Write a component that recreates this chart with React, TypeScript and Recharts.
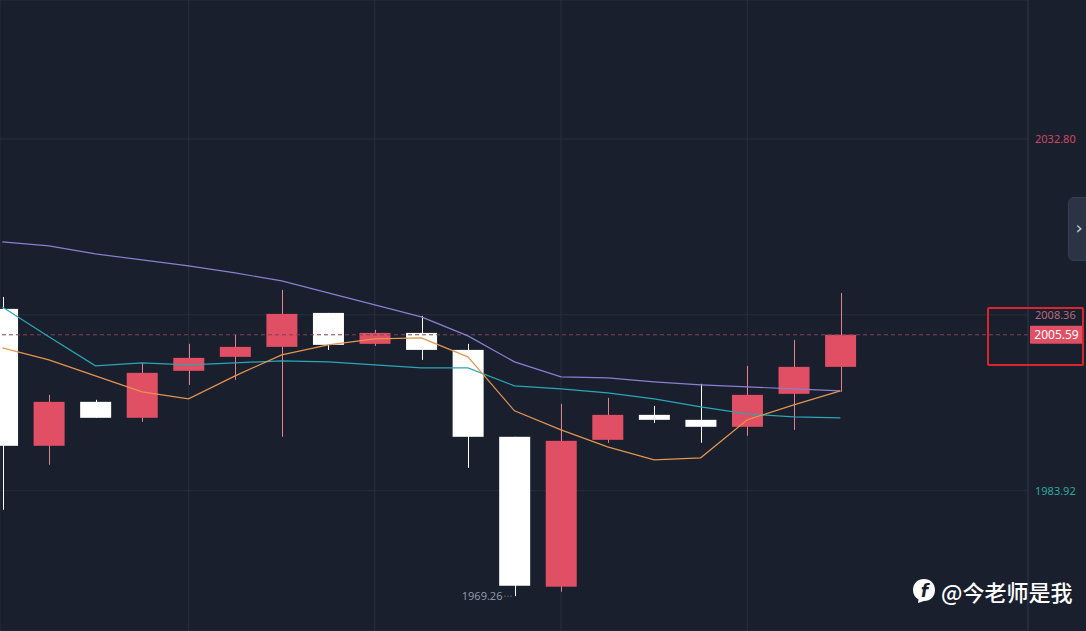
import {
  Bar,
  CartesianGrid,
  ComposedChart,
  Line,
  ReferenceDot,
  ReferenceLine,
  XAxis,
  YAxis,
} from "recharts";

// candle slots (index along the time axis)
const slots = [0, 1, 2, 3, 4, 5, 6, 7, 8, 9, 10, 11, 12, 13, 14, 15, 16, 17, 18];
const opens = [
  2009.19, 1990.16, 1996.27, 1994.05, 2000.58, 2002.52, 2003.91, 2008.63, 2004.33, 2005.85,
  2003.49, 1991.41, 1970.58, 1990.99, 1994.46, 1993.77, 1992.8, 1997.38, 2001.13,
];
const highs = [
  2010.85, 1997.24, 1996.55, 2001.69, 2004.33, 2005.58, 2011.83, 2008.63, 2006.27, 2008.21,
  2004.33, 1991.41, 1995.99, 1996.83, 1995.71, 1998.77, 2001.27, 2004.88, 2011.41,
];
const lows = [
  1981.27, 1987.52, 1994.05, 1993.49, 1998.63, 1999.33, 1991.41, 2003.49, 2004.05, 2002.1,
  1987.1, 1969.26, 1969.88, 1990.58, 1993.35, 1990.58, 1991.55, 1992.38, 1997.66,
];
const closes = [
  1990.16, 1996.27, 1994.05, 2000.3, 2002.38, 2003.91, 2008.49, 2004.19, 2005.85, 2003.49,
  1991.41, 1970.71, 1990.85, 1994.46, 1993.77, 1992.8, 1997.24, 2001.13, 2005.59,
];
const maFast = [
  2003.77, 2002.1, 1999.88, 1997.66, 1996.69, 1999.88, 2002.8, 2004.19, 2005.02, 2005.16,
  2002.52, 1995.02, 1992.38, 1990.02, 1988.21, 1988.49, 1993.77, 1995.85, 1997.8,
];
const maMid = [
  2009.46, 2005.3, 2001.27, 2001.69, 2001.41, 2001.69, 2001.96, 2001.83, 2001.41, 2000.99,
  2000.99, 1998.49, 1998.08, 1997.52, 1996.69, 1995.58, 1994.6, 1994.19, 1994.05,
];
const maSlow = [
  2018.49, 2017.94, 2016.83, 2015.99, 2015.16, 2014.19, 2013.08, 2011.41, 2009.74, 2008.08,
  2005.44, 2001.83, 1999.74, 1999.6, 1999.05, 1998.63, 1998.35, 1998.08, 1997.8,
];

const priceTicks = [1983.92, 2008.36, 2032.8];
const tickColors: Record<string, string> = {
  "1983.92": "#2aa99b",
  "2008.36": "#b26b80",
  "2032.80": "#c94b66",
};
const gridSlots = [0, 4, 8, 12, 16];
const lastPrice = 2005.59;
const lowPrice = 1969.26;
const lowSlot = 11;

const BG = "#1a1f2d";
const GRID = "#272e3d";
const UP = "#e04f63";
const UP_WICK = "#e3808f";
const DOWN = "#ffffff";

const data = slots.map((i, k) => ({
  i,
  open: opens[k],
  high: highs[k],
  low: lows[k],
  close: closes[k],
  range: [lows[k], highs[k]],
  ma5: maFast[k],
  ma10: maMid[k],
  ma30: maSlow[k],
}));

function Candle(props: any) {
  const { x, y, width, height, payload } = props;
  if (x == null || y == null) return null;
  const { open, close, high, low } = payload;
  const up = close >= open;
  const color = up ? UP : DOWN;
  const top0 = Math.min(y, y + height);
  const h = Math.abs(height);
  const span = high - low || 1;
  const toY = (v: number) => top0 + ((high - v) / span) * h;
  const top = toY(Math.max(open, close));
  const bottom = toY(Math.min(open, close));
  const cx = Math.round(x + width / 2) + 0.5;
  return (
    <g>
      <line x1={cx} x2={cx} y1={top0} y2={top0 + h} stroke={up ? UP_WICK : DOWN} strokeWidth={1} />
      <rect x={x} y={top} width={width} height={Math.max(bottom - top, 1.5)} fill={color} />
    </g>
  );
}

function PriceTick(props: any) {
  const { x, y, payload } = props;
  const label = Number(payload.value).toFixed(2);
  return (
    <text x={x} y={y} dy={4} fill={tickColors[label] ?? "#8a93a6"} fontSize={11} fontFamily="Noto Sans, Arial, sans-serif">
      {label}
    </text>
  );
}

function PriceTag(props: any) {
  const vb = props.viewBox || {};
  const left = vb.x + vb.width + 2;
  return (
    <g>
      <rect x={left} y={vb.y - 9} width={53} height={18} fill={UP} rx={1} />
      <text x={left + 26.5} y={vb.y + 4.5} textAnchor="middle" fill="#fff" fontSize={12} fontFamily="Noto Sans, Arial, sans-serif">
        {lastPrice.toFixed(2)}
      </text>
    </g>
  );
}

function LowMark(props: any) {
  const { cx, cy } = props;
  if (cx == null) return null;
  return (
    <g>
      <text x={cx - 12} y={cy + 4} textAnchor="end" fill="#8e97a8" fontSize={11} fontFamily="Noto Sans, Arial, sans-serif">
        {lowPrice.toFixed(2)}
      </text>
      <line x1={cx - 10} x2={cx - 2} y1={cy} y2={cy} stroke="#8e97a8" strokeDasharray="1 2" />
    </g>
  );
}

export default function App() {
  return (
    <div style={{ position: "fixed", left: 0, top: 0, width: 1086, height: 631, background: BG, overflow: "hidden" }}>
      <ComposedChart width={1086} height={631} data={data} margin={{ top: 0, right: 0, bottom: 0, left: 0 }}>
        <CartesianGrid stroke={GRID} strokeWidth={1} />
        <XAxis dataKey="i" type="number" domain={[-0.05, 22.03]} ticks={gridSlots} hide allowDataOverflow height={0} />
        <YAxis
          orientation="right"
          width={58}
          domain={[1964.42, 2052.12]}
          ticks={priceTicks}
          allowDataOverflow
          axisLine={{ stroke: "#2a3142" }}
          tickLine={false}
          tickSize={0}
          tickMargin={7}
          tick={<PriceTick />}
        />
        <ReferenceLine y={lastPrice} stroke="#7d4454" strokeDasharray="4 3" label={<PriceTag />} />
        <Bar dataKey="range" barSize={31} shape={<Candle />} isAnimationActive={false} />
        <Line type="linear" dataKey="ma30" stroke="#8a7fd3" strokeWidth={1.2} dot={false} activeDot={false} isAnimationActive={false} />
        <Line type="linear" dataKey="ma10" stroke="#2aa6b6" strokeWidth={1.2} dot={false} activeDot={false} isAnimationActive={false} />
        <Line type="linear" dataKey="ma5" stroke="#e39450" strokeWidth={1.2} dot={false} activeDot={false} isAnimationActive={false} />
        <ReferenceDot x={lowSlot} y={lowPrice} r={0} shape={<LowMark />} />
      </ComposedChart>

      {/* highlight box around current price */}
      <div
        style={{
          position: "absolute",
          left: 987,
          top: 307,
          width: 93,
          height: 55,
          border: "2px solid #d9262c",
          borderRadius: 2,
        }}
      />

      {/* side tab */}
      <div
        style={{
          position: "absolute",
          left: 1068,
          top: 197,
          width: 20,
          height: 62,
          background: "#2c3344",
          borderRadius: "6px 0 0 6px",
          border: "1px solid #363e51",
          color: "#c4cad6",
          fontFamily: "DejaVu Sans, sans-serif",
          fontSize: 18,
          lineHeight: "60px",
          textAlign: "center",
        }}
      >
        ›
      </div>

      {/* watermark */}
      <div
        style={{
          position: "absolute",
          left: 912,
          top: 575,
          display: "flex",
          alignItems: "center",
          gap: 5,
          color: "#ffffff",
          fontFamily: "Noto Sans CJK SC, sans-serif",
          fontSize: 22,
          fontWeight: 500,
        }}
      >
        <svg width={24} height={26} viewBox="0 0 24 26">
          <path d="M12 1 C18.5 1 23 5.5 23 12 C23 18.5 18.5 23 12 23 L6 25 L6.5 21.5 C3 19.5 1 16 1 12 C1 5.5 5.5 1 12 1 Z" fill="#fff" />
          <text x={12.5} y={19} textAnchor="middle" fontSize={17} fontWeight={700} fontStyle="italic" fill={BG} fontFamily="DejaVu Sans, sans-serif">
            f
          </text>
        </svg>
        <span>@今老师是我</span>
      </div>
    </div>
  );
}
